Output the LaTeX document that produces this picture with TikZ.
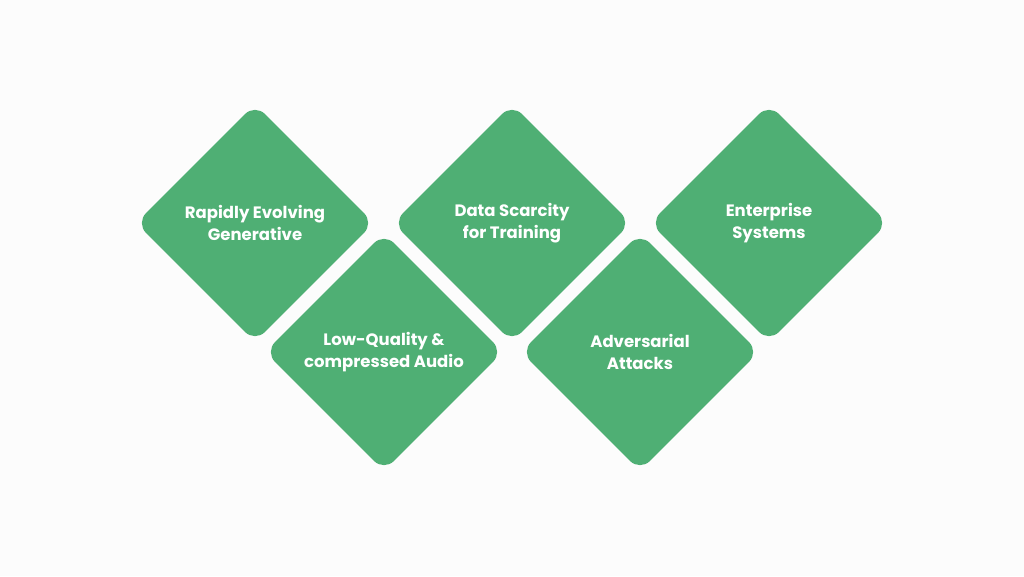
\documentclass[tikz,border=0pt]{standalone}
\usepackage{fontspec}
\setmainfont{Poppins}
\usetikzlibrary{shapes.geometric}
\definecolor{dg}{HTML}{4FAF74}
\definecolor{bg}{HTML}{FCFCFC}
\begin{document}
\begin{tikzpicture}[x=1pt,y=-1pt,
  dia/.style={diamond,fill=dg,draw=none,minimum width=238pt,minimum height=238pt,inner sep=0pt,aspect=1,rounded corners=14pt,text=white,align=center,font=\fontsize{16.5}{22}\selectfont\bfseries}]
\fill[bg] (0,0) rectangle (1024,576);
\useasboundingbox (0,0) rectangle (1024,576);
\node[dia] (a) at (255,223) {Rapidly Evolving\\Generative};
\node[dia] (b) at (512,223) {Data Scarcity\\for Training};
\node[dia] (c) at (769,223) {Enterprise\\Systems};
\node[dia] (d) at (384,352) {Low-Quality \&\\compressed Audio};
\node[dia] (e) at (640,352) {Adversarial\\Attacks};
\end{tikzpicture}
\end{document}
